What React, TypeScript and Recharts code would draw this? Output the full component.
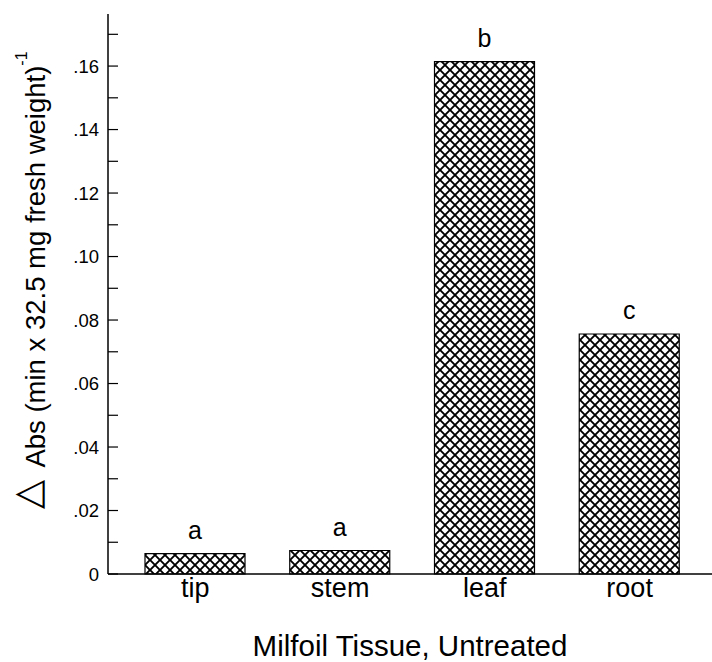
import React from 'react';
import { BarChart, Bar, XAxis, YAxis, LabelList, Label } from 'recharts';

const tissues = ['tip', 'stem', 'leaf', 'root'];
const activity = [0.0064, 0.0074, 0.1614, 0.0756];
const groups = ['a', 'a', 'b', 'c'];
const yTicks = [0, 0.01, 0.02, 0.03, 0.04, 0.05, 0.06, 0.07, 0.08, 0.09, 0.1, 0.11, 0.12, 0.13, 0.14, 0.15, 0.16, 0.17];

const data = tissues.map((t, i) => ({ tissue: t, value: activity[i], group: groups[i] }));

const FONT = '"Liberation Sans", Arial, Helvetica, sans-serif';

function fmt(v: number) {
  if (v === 0) return '0';
  return v.toFixed(2).replace(/^0/, '');
}

function YTick(props: any) {
  const { x, y, payload, index } = props;
  const major = index % 2 === 0;
  return (
    <g>
      <line x1={x} y1={y} x2={x + 10} y2={y} stroke="#000" strokeWidth={1.2} />
      {major && (
        <text x={x - 9} y={y} dy="0.36em" textAnchor="end" fontSize={18.5} fontFamily={FONT} fill="#000">
          {fmt(payload.value)}
        </text>
      )}
    </g>
  );
}

function YTitle(props: any) {
  const vb = props.viewBox;
  const cx = 45;
  const cy = vb.y + vb.height / 2 - 14;
  return (
    <text x={cx} y={cy} transform={`rotate(-90 ${cx} ${cy})`} textAnchor="middle" fontFamily={FONT} fill="#000" fontSize={27.5}>
      <tspan fontSize={38} dy="-5">△</tspan>
      <tspan dx="12" dy="5">Abs (min x 32.5 mg fresh weight)</tspan>
      <tspan fontSize={16} dy="-18">-1</tspan>
    </text>
  );
}

function XTitle(props: any) {
  const vb = props.viewBox;
  return (
    <text x={vb.x + vb.width / 2} y={656} textAnchor="middle" fontFamily={FONT} fill="#000" fontSize={29.5}>
      Milfoil Tissue, Untreated
    </text>
  );
}

export default function App() {
  return (
    <div style={{ position: 'absolute', left: 0, top: 0, width: 712, height: 662, overflow: 'hidden', background: '#fff' }}>
      <svg width={0} height={0} style={{ position: 'absolute' }}>
        <defs>
          <pattern id="xhatch" patternUnits="userSpaceOnUse" width={10} height={10}>
            <path d="M-1,-1 L11,11 M11,-1 L-1,11" stroke="#000" strokeWidth={1.9} />
          </pattern>
        </defs>
      </svg>
      <BarChart width={712} height={662} data={data} margin={{ top: 14, right: 0, bottom: 58, left: 0 }}>
        <XAxis xAxisId="top" orientation="top" dataKey="tissue" tick={false} tickLine={false} height={0} axisLine={{ stroke: '#000', strokeWidth: 1.5 }} padding={{ left: 15, right: 10 }} />
        <XAxis
          dataKey="tissue"
          height={30}
          tickLine={false}
          tickSize={0}
          tickMargin={4}
          padding={{ left: 15, right: 10 }}
          axisLine={{ stroke: '#000', strokeWidth: 1.5 }}
          tick={{ fontSize: 27, fill: '#000', fontFamily: FONT }}
        >
          <Label content={<XTitle />} />
        </XAxis>
        <YAxis
          width={108}
          domain={[0, 0.1764]}
          ticks={yTicks}
          interval={0}
          tickSize={0}
          tickMargin={0}
          tickLine={false}
          tick={<YTick />}
          axisLine={{ stroke: '#000', strokeWidth: 1.5 }}
        >
          <Label content={<YTitle />} />
        </YAxis>
        <Bar dataKey="value" barSize={100} fill="url(#xhatch)" stroke="#000" strokeWidth={1.2} isAnimationActive={false}>
          <LabelList dataKey="group" position="top" offset={15} fontSize={25} fill="#000" fontFamily={FONT} />
        </Bar>
      </BarChart>
    </div>
  );
}
